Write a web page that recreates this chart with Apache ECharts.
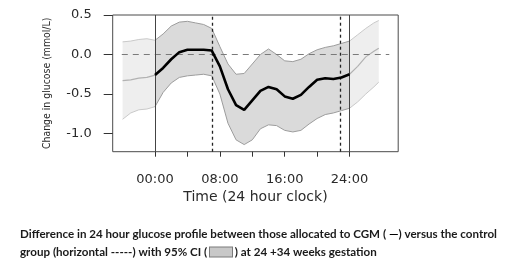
<!DOCTYPE html>
<html>
<head>
<meta charset="utf-8">
<script src="https://cdn.jsdelivr.net/npm/echarts@6/dist/echarts.min.js"></script>
<style>
  html, body { margin: 0; padding: 0; background: #fff; }
  #main { width: 520px; height: 268px; }
</style>
</head>
<body>
<div id="main"></div>
<script>
// hours of the day (outside 0-24 is the repeated profile, drawn lighter)
const hours = [-4, -3, -2, -1, 0, 1, 2, 3, 4, 5, 6, 7, 8, 9, 10, 11, 12, 13, 14, 15, 16,
  17, 18, 19, 20, 21, 22, 23, 24, 25, 26, 27, 27.6];
// difference in glucose (mmol/L), CGM vs control
const meanDiff = [-0.33, -0.32, -0.30, -0.29, -0.26, -0.17, -0.06, 0.03, 0.06, 0.06, 0.06, 0.05,
  -0.15, -0.44, -0.64, -0.70, -0.58, -0.46, -0.41, -0.44, -0.53, -0.56, -0.51, -0.41, -0.32,
  -0.30, -0.31, -0.29, -0.25, -0.15, -0.03, 0.04, 0.08];
const upperCI = [0.16, 0.17, 0.19, 0.20, 0.18, 0.26, 0.36, 0.41, 0.42, 0.40, 0.38, 0.33,
  0.10, -0.12, -0.25, -0.24, -0.12, 0.00, 0.07, 0.00, -0.08, -0.09, -0.06, 0.01, 0.06,
  0.09, 0.11, 0.14, 0.17, 0.25, 0.33, 0.40, 0.43];
const lowerCI = [-0.82, -0.74, -0.70, -0.69, -0.66, -0.48, -0.36, -0.29, -0.27, -0.26, -0.25, -0.27,
  -0.50, -0.87, -1.08, -1.14, -1.08, -0.94, -0.89, -0.90, -0.96, -0.98, -0.96, -0.88, -0.81,
  -0.76, -0.74, -0.71, -0.68, -0.60, -0.50, -0.41, -0.35];

const xTickHours = [0, 4, 8, 12, 16, 20, 24];
const xLabelHours = [0, 8, 16, 24];
const yTicks = [-1.0, -0.5, 0.0, 0.5];
const solidLines = [0, 24];
const dashedLines = [7.07, 22.85];
const zeroLineSpan = [-4.1, 28.9];

const caption1 = 'Difference in 24 hour glucose profile between those allocated to CGM ( {dash|—}) versus the control';
const caption2 = 'group (horizontal -----) with 95% CI ( {box|} ) at 24 +34 weeks gestation';

// rows [hour, lower, upper, mean] for one stretch of the day
function segment(from, to) {
  let rows = [];
  hours.forEach((h, i) => {
    if (h >= from && h <= to) rows.push([h, lowerCI[i], upperCI[i], meanDiff[i]]);
  });
  return rows;
}

function bandSeries(rows, fill) {
  return {
    type: 'custom',
    data: rows,
    silent: true,
    z: 1,
    renderItem: function (params, api) {
      if (params.dataIndex !== 0) return;
      let top = rows.map(r => api.coord([r[0], r[2]]));
      let bottom = rows.slice().reverse().map(r => api.coord([r[0], r[1]]));
      return {
        type: 'polygon',
        shape: { points: top.concat(bottom) },
        style: { fill: fill }
      };
    }
  };
}

function lineSeries(rows, col, color, width, z) {
  return {
    type: 'line',
    data: rows.map(r => [r[0], r[col]]),
    showSymbol: false,
    silent: true,
    z: z,
    lineStyle: { color: color, width: width }
  };
}

const left = segment(-5, 0);
const core = segment(0, 24);
const right = segment(24, 30);

const axisFont = { fontFamily: 'DejaVu Sans', fontSize: 13, color: '#2a2a2a' };

const chart = echarts.init(document.getElementById('main'), null, { renderer: 'canvas' });

chart.setOption({
  animation: false,
  title: {
    text: caption1 + '\n' + caption2,
    left: 15,
    top: 220,
    textStyle: {
      fontFamily: 'Lato',
      fontSize: 11.6,
      fontWeight: 'bold',
      color: '#1a1a1a',
      lineHeight: 18,
      rich: {
        dash: { fontFamily: 'Lato', fontSize: 12, fontWeight: 'bold', color: '#000' },
        box: {
          width: 22, height: 9,
          backgroundColor: '#c8c8c8', borderColor: '#7a7a7a', borderWidth: 1
        }
      }
    }
  },
  grid: {
    left: 112.7, right: 121.8, top: 15, bottom: 116.3,
    show: true, borderColor: '#4a4a4a', borderWidth: 1,
    outerBoundsMode: 'none'
  },
  xAxis: {
    type: 'value',
    min: -5.22,
    max: 30.0,
    name: 'Time (24 hour clock)',
    nameLocation: 'middle',
    nameGap: 35,
    nameTextStyle: { fontFamily: 'DejaVu Sans', fontSize: 14, color: '#2a2a2a' },
    splitLine: { show: false },
    axisLine: { show: false, onZero: false },
    axisTick: {
      show: true, length: 5, customValues: xTickHours,
      lineStyle: { color: '#333' }
    },
    axisLabel: Object.assign({
      margin: 21,
      customValues: xLabelHours,
      formatter: v => String(v).padStart(2, '0') + ':00'
    }, axisFont)
  },
  yAxis: {
    type: 'value',
    min: -1.23,
    max: 0.5,
    name: 'Change in glucose (mmol/L)',
    nameLocation: 'middle',
    nameGap: 60,
    nameTextStyle: {
      fontFamily: 'DejaVu Sans Condensed',
      fontSize: 10.4,
      color: '#2a2a2a'
    },
    splitLine: { show: false },
    axisLine: { show: false, onZero: false },
    axisTick: {
      show: true, length: 9, customValues: yTicks,
      lineStyle: { color: '#333' }
    },
    axisLabel: Object.assign({
      margin: 21,
      customValues: yTicks,
      formatter: v => v.toFixed(1)
    }, axisFont)
  },
  series: [
    bandSeries(left, '#eeeeee'),
    bandSeries(right, '#eeeeee'),
    bandSeries(core, '#dadada'),
    lineSeries(left, 1, '#c9c9c9', 1, 2),
    lineSeries(left, 2, '#c9c9c9', 1, 2),
    lineSeries(left, 3, '#b2b2b2', 1.2, 2),
    lineSeries(right, 1, '#c9c9c9', 1, 2),
    lineSeries(right, 2, '#c9c9c9', 1, 2),
    lineSeries(right, 3, '#b2b2b2', 1.2, 2),
    lineSeries(core, 1, '#9c9c9c', 1, 3),
    lineSeries(core, 2, '#9c9c9c', 1, 3),
    Object.assign(lineSeries(core, 3, '#000', 2.6, 5), {
      markLine: {
        silent: true,
        symbol: 'none',
        label: { show: false },
        data: [
          [{ coord: [zeroLineSpan[0], 0] }, { coord: [zeroLineSpan[1], 0] }]
        ],
        lineStyle: { color: '#7a7a7a', width: 1.2, type: [6, 5] }
      }
    }),
    {
      type: 'line',
      data: [],
      z: 4,
      markLine: {
        silent: true,
        symbol: 'none',
        label: { show: false },
        data: solidLines.map(h => ({ xAxis: h, lineStyle: { color: '#444', width: 1, type: 'solid' } }))
          .concat(dashedLines.map(h => ({ xAxis: h, lineStyle: { color: '#222', width: 1.3, type: [3, 3] } })))
      }
    }
  ]
});
</script>
</body>
</html>
